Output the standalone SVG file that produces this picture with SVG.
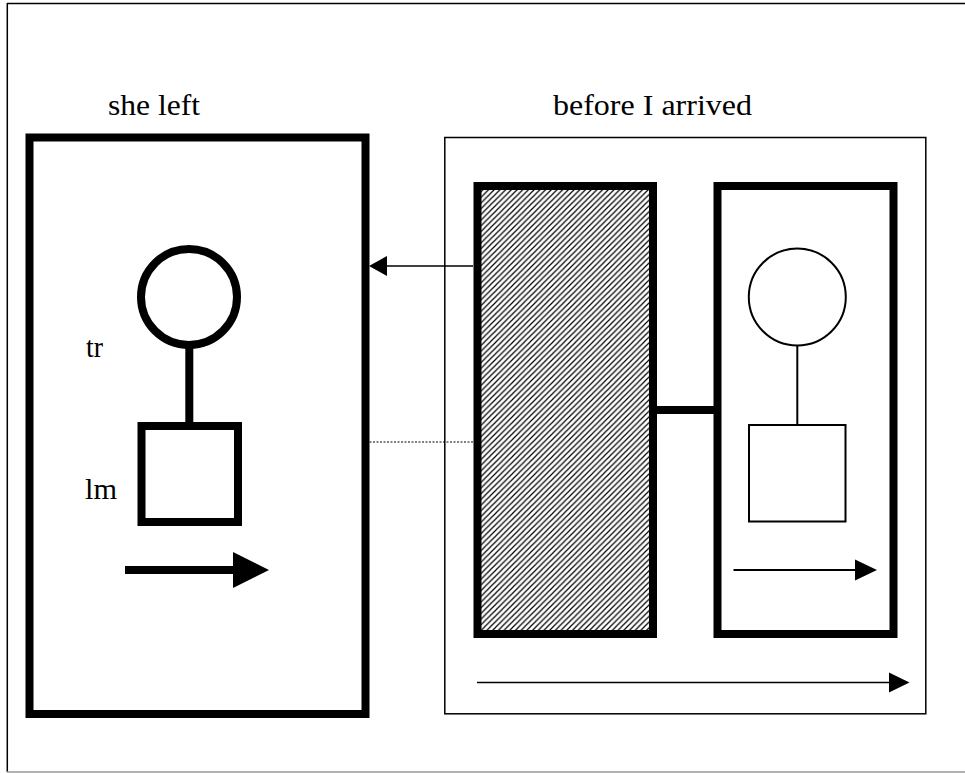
<svg xmlns="http://www.w3.org/2000/svg" width="965" height="773" viewBox="0 0 965 773">
<style>
.lbl{font-family:"Liberation Serif","Times New Roman",serif;font-size:29px;fill:#000}
.thick{fill:none;stroke:#000;stroke-width:8}
.thin{fill:none;stroke:#000;stroke-width:1.5}
.mid{fill:#fff;stroke:#000;stroke-width:2}
.head{fill:#000;stroke:none}
</style>
<defs>
<pattern id="hatch" patternUnits="userSpaceOnUse" width="5.7" height="5.7">
<rect width="5.7" height="5.7" fill="#fff"/>
<path d="M-1,6.7 L6.7,-1 M-3.85,3.85 L3.85,-3.85 M1.85,9.55 L9.55,1.85" stroke="#000" stroke-width="1.2"/>
</pattern>
</defs>
<rect width="965" height="773" fill="#fff"/>
<g id="frame">
<line x1="7" y1="3.5" x2="965" y2="3.5" stroke="#000" stroke-width="1.5"/>
<line x1="7.3" y1="3" x2="7.3" y2="772" stroke="#000" stroke-width="1.5"/>
<line x1="7" y1="772" x2="965" y2="772" stroke="#999" stroke-width="1.5"/>
</g>
<g id="label-she-left"><text class="lbl" x="108" y="115" textLength="92" lengthAdjust="spacingAndGlyphs">she left</text></g>
<g id="label-before"><text class="lbl" x="553" y="115" textLength="199" lengthAdjust="spacingAndGlyphs">before I arrived</text></g>
<g id="left-box">
<rect class="thick" x="29.5" y="137.5" width="336" height="576.5"/>
</g>
<g id="left-circle"><circle class="thick" cx="189" cy="297" r="48"/></g>
<g id="left-square"><rect class="thick" x="141.5" y="426" width="96.5" height="96"/></g>
<g id="label-tr"><text class="lbl" x="86" y="357" textLength="17" lengthAdjust="spacingAndGlyphs">tr</text></g>
<g id="label-lm"><text class="lbl" x="85" y="499" textLength="32" lengthAdjust="spacingAndGlyphs">lm</text></g>
<g id="left-arrow">
<line x1="125" y1="570" x2="234" y2="570" stroke="#000" stroke-width="8"/>
<polygon class="head" points="233,552 269,570 233,588"/>
</g>
<g id="right-container"><rect class="thin" x="444.8" y="137.5" width="481" height="576.3"/></g>
<g id="hatched-box"><rect x="477.5" y="186" width="175.5" height="448" fill="url(#hatch)" stroke="#000" stroke-width="8"/></g>
<g id="right-box"><rect class="thick" x="717.5" y="186" width="176" height="448"/></g>
<g id="right-circle"><circle class="mid" cx="797.3" cy="297" r="48.5"/></g>
<g id="right-square"><rect class="mid" x="749" y="425" width="96.5" height="96.5"/></g>
<g id="right-arrow">
<line x1="733.5" y1="570" x2="856" y2="570" stroke="#000" stroke-width="1.8"/>
<polygon class="head" points="855,559.5 877,570 855,580.5"/>
</g>
<g id="long-arrow">
<line x1="477" y1="682.5" x2="890" y2="682.5" stroke="#000" stroke-width="1.5"/>
<polygon class="head" points="889,672.5 909.5,682.5 889,692.5"/>
</g>
<g id="connectors">
<line x1="473" y1="266" x2="386" y2="266" stroke="#000" stroke-width="1.5"/>
<polygon class="head" points="387,256 369,266 387,276"/>
<line x1="369.5" y1="442" x2="473" y2="442" stroke="#000" stroke-width="1" stroke-dasharray="2 1.5"/>
<line x1="189.3" y1="345" x2="189.3" y2="423" stroke="#000" stroke-width="8"/>
<line x1="657" y1="410" x2="714" y2="410" stroke="#000" stroke-width="8"/>
<line x1="797.3" y1="345.5" x2="797.3" y2="425" stroke="#000" stroke-width="2"/>
</g>
</svg>
